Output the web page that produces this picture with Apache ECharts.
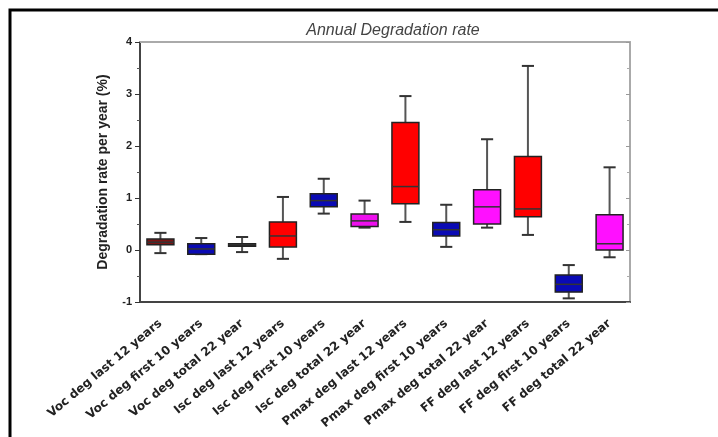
<!DOCTYPE html>
<html>
<head>
<meta charset="utf-8">
<script src="https://cdn.jsdelivr.net/npm/echarts@6/dist/echarts.min.js"></script>
<style>html,body{margin:0;padding:0;background:#fff}#c{width:718px;height:437px}</style>
</head>
<body>
<div id="c"></div>
<script>
var categories = ['Voc deg last 12 years','Voc deg first 10 years','Voc deg total 22 year','Isc deg last 12 years','Isc deg first 10 years','Isc deg total 22 year','Pmax deg last 12 years','Pmax deg first 10 years','Pmax deg total 22 year','FF deg last 12 years','FF deg first 10 years','FF deg total 22 year'];
var whiskerLow  = [-0.06, -0.08, -0.04, -0.17, 0.70, 0.43, 0.54, 0.06, 0.43, 0.29, -0.93, -0.14];
var q1          = [ 0.10, -0.08,  0.07,  0.06, 0.83, 0.45, 0.89, 0.27, 0.50, 0.64, -0.81,  0.00];
var median      = [ 0.15,  0.02,  0.10,  0.27, 0.95, 0.56, 1.22, 0.39, 0.83, 0.79, -0.66,  0.12];
var q3          = [ 0.21,  0.12,  0.12,  0.54, 1.08, 0.69, 2.45, 0.53, 1.16, 1.80, -0.48,  0.68];
var whiskerHigh = [ 0.33,  0.23,  0.25,  1.02, 1.37, 0.95, 2.96, 0.87, 2.13, 3.54, -0.29,  1.59];
var yTicks = [-1, 0, 1, 2, 3, 4];

var boxColors = ['#7a1414','#0a0ab4','#111111','#ff0000','#0a0ab4','#ee10ee','#ff0000','#0a0ab4','#ff10ff','#ff0000','#0a0ab4','#ff10ff'];

var data = categories.map(function(c, i){ return [i, whiskerLow[i], q1[i], median[i], q3[i], whiskerHigh[i]]; });

var chart = echarts.init(document.getElementById('c'));
var lbl = {fontFamily:'Liberation Sans', fontWeight:'bold', fontSize:11, color:'#222'};
chart.setOption({
  animation:false,
  title:{text:'Annual Degradation rate', left:388, top:18, textAlign:'center',
    textStyle:{fontFamily:'Liberation Sans', fontStyle:'italic', fontWeight:'normal', fontSize:16, color:'#444'}},
  grid:{left:140, right:88, top:42, bottom:135},
  graphic:[{type:'rect', shape:{x:10, y:10, width:720, height:440}, style:{fill:'none', stroke:'#000', lineWidth:3}, silent:true}],
  xAxis:[{type:'category', data:categories, position:'bottom',
      axisLine:{onZero:false, lineStyle:{color:'#444', width:2}},
      axisTick:{alignWithLabel:true, length:4, lineStyle:{color:'#333'}},
      axisLabel:{rotate:40, interval:0, margin:20, fontFamily:'DejaVu Sans', fontWeight:'bold', fontSize:12, color:'#222'}},
    {type:'category', data:categories, position:'top',
      axisLine:{onZero:false, lineStyle:{color:'#aaa', width:2}},
      axisTick:{alignWithLabel:true, inside:true, length:4, lineStyle:{color:'#999'}},
      axisLabel:{show:false}}],
  yAxis:[{type:'value', min:yTicks[0], max:yTicks[yTicks.length-1], interval:1, position:'left',
      name:'Degradation rate per year (%)', nameLocation:'middle', nameGap:30, nameRotate:90,
      nameTextStyle:{fontFamily:'Liberation Sans', fontWeight:'bold', fontSize:14, color:'#222'},
      axisLine:{show:true, lineStyle:{color:'#444', width:2}},
      axisTick:{show:true, length:5, lineStyle:{color:'#333'}},
      minorTick:{show:true, splitNumber:2, length:3, lineStyle:{color:'#555'}},
      splitLine:{show:false},
      axisLabel:Object.assign({margin:8}, lbl)},
    {type:'value', min:yTicks[0], max:yTicks[yTicks.length-1], interval:1, position:'right',
      axisLine:{show:true, lineStyle:{color:'#aaa', width:2}},
      axisTick:{show:true, inside:true, length:4, lineStyle:{color:'#999'}},
      minorTick:{show:true, splitNumber:2, length:3, lineStyle:{color:'#aaa'}},
      splitLine:{show:false}, axisLabel:{show:false}}],
  series:[{
    type:'custom', data:data, encode:{x:0, y:[1,2,3,4,5]},
    renderItem:function(params, api){
      var i = api.value(0);
      var pLow = api.coord([i, api.value(1)]);
      var pQ1 = api.coord([i, api.value(2)]);
      var pMed = api.coord([i, api.value(3)]);
      var pQ3 = api.coord([i, api.value(4)]);
      var pHigh = api.coord([i, api.value(5)]);
      var bw = api.size([1,0])[0]*0.66;
      var cw = bw*0.45;
      var x = pMed[0];
      var col = boxColors[i];
      var whisk = {stroke:'#555', lineWidth:2};
      return {type:'group', children:[
        {type:'line', shape:{x1:x, y1:pHigh[1], x2:x, y2:pQ3[1]}, style:whisk},
        {type:'line', shape:{x1:x, y1:pLow[1], x2:x, y2:pQ1[1]}, style:whisk},
        {type:'line', shape:{x1:x-cw/2, y1:pHigh[1], x2:x+cw/2, y2:pHigh[1]}, style:{stroke:'#333', lineWidth:2}},
        {type:'line', shape:{x1:x-cw/2, y1:pLow[1], x2:x+cw/2, y2:pLow[1]}, style:{stroke:'#333', lineWidth:2}},
        {type:'rect', shape:{x:x-bw/2, y:pQ3[1], width:bw, height:Math.max(pQ1[1]-pQ3[1],2)}, style:{fill:col, stroke:'#222', lineWidth:1.5}},
        {type:'line', shape:{x1:x-bw/2, y1:pMed[1], x2:x+bw/2, y2:pMed[1]}, style:{stroke:'#333', lineWidth:1.5}}
      ]};
    }
  }]
});
</script>
</body>
</html>
